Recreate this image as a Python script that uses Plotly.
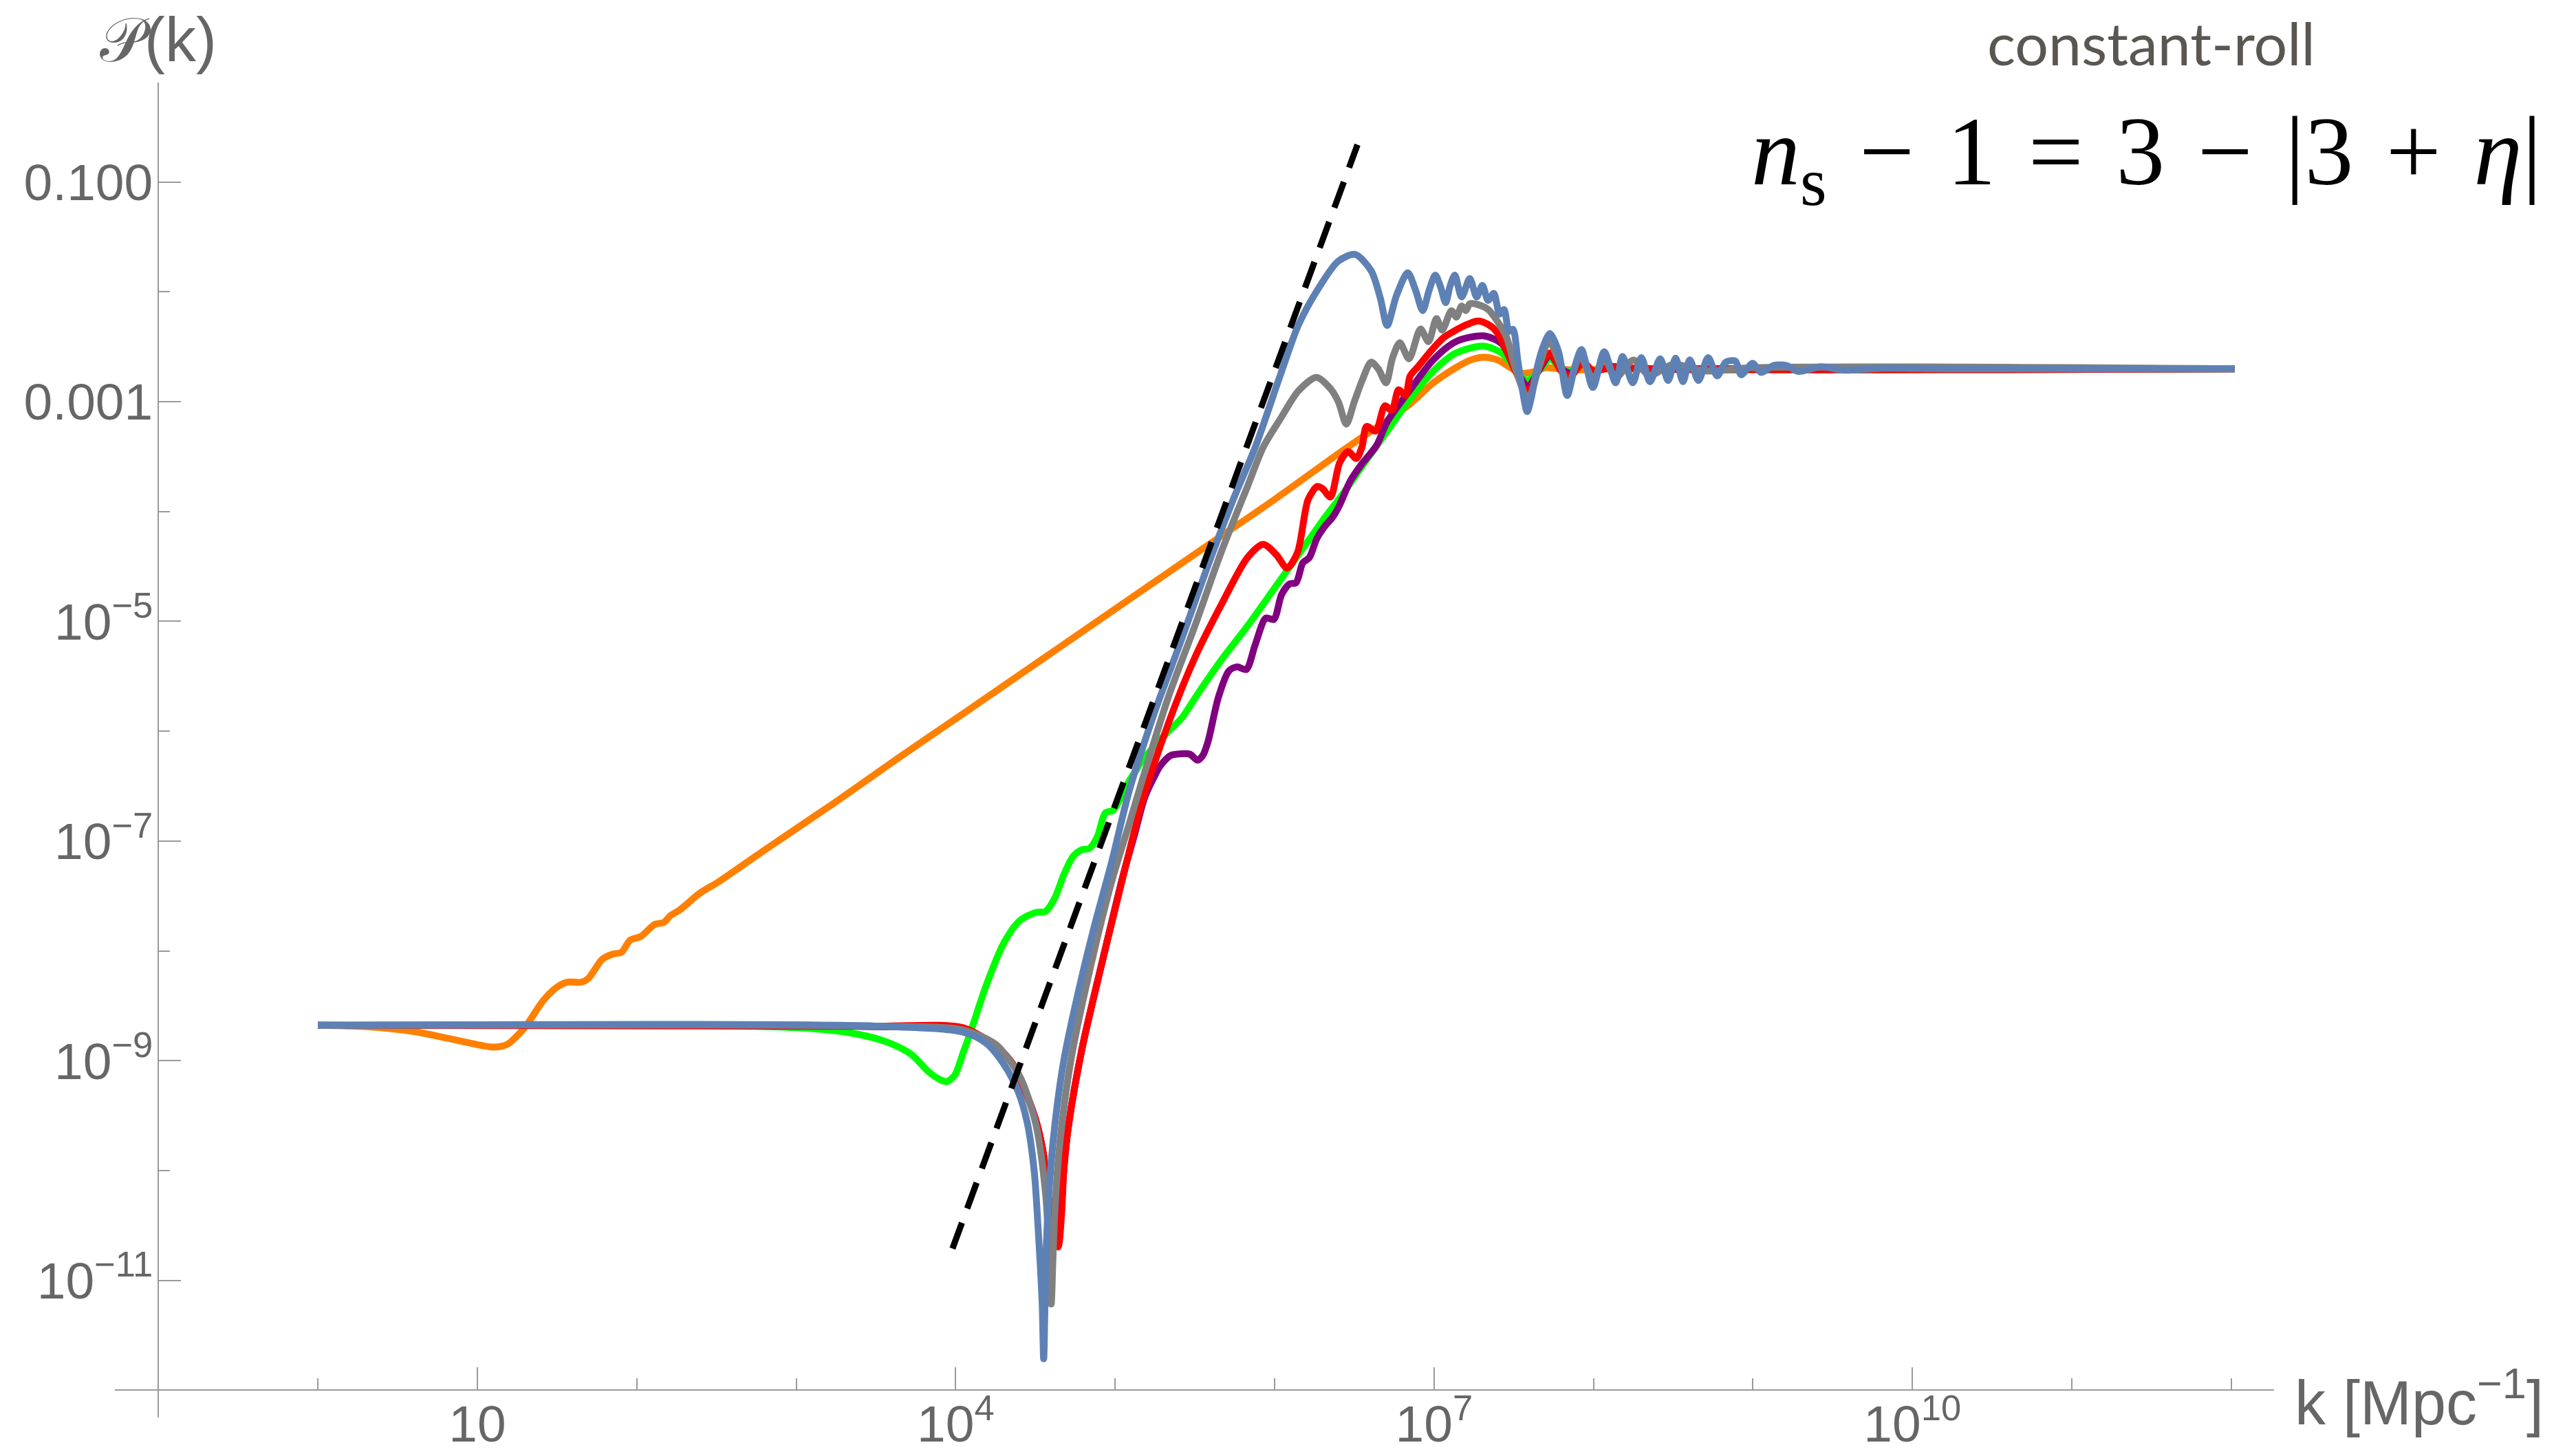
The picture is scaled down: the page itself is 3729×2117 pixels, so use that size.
import numpy as np
import plotly.graph_objects as go

# ---- curve samples: log10(k [1/Mpc]) and log10(P(k)) ----
orange_logk = [0.0, 0.3, 0.5945, 0.814, 0.969, 1.101, 1.189, 1.277, 1.321, 1.409, 1.497, 1.563, 1.651,
               1.695, 1.783, 1.849, 1.904, 1.959, 2.025, 2.113, 2.168, 2.212, 2.267, 2.40, 2.51, 2.796,
               3.236, 3.676, 4.046, 5.612, 6.0, 6.4185, 6.562, 6.706, 6.85, 6.994, 7.137, 7.23, 7.31,
               7.40, 7.48, 7.55, 7.62, 7.70, 7.78, 7.86, 8.2, 12.02]
orange_logP = [-8.678, -8.69, -8.732, -8.796, -8.844, -8.876, -8.850, -8.732, -8.652, -8.460, -8.333,
               -8.285, -8.285, -8.253, -8.077, -8.029, -8.013, -7.901, -7.869, -7.758, -7.742, -7.678,
               -7.630, -7.47, -7.374, -7.087, -6.655, -6.208, -5.841, -4.276, -3.89, -3.454, -3.31,
               -3.17, -3.02, -2.83, -2.69, -2.62, -2.595, -2.62, -2.69, -2.74, -2.73, -2.69, -2.70,
               -2.71, -2.70, -2.70]

green_logk = [0.0, 2.5, 3.016, 3.346, 3.566, 3.72, 3.83, 3.90, 3.945, 3.995, 4.046, 4.089, 4.19, 4.305,
              4.405, 4.506, 4.563, 4.621, 4.68, 4.736, 4.79, 4.839, 4.889, 4.938, 4.988, 5.037, 5.087,
              5.13, 5.17, 5.22, 5.318, 5.417, 5.516, 5.665, 5.83, 5.995, 6.16, 6.325, 6.433, 6.562,
              6.706, 6.85, 6.994, 7.137, 7.31, 7.425, 7.511, 7.583, 7.655, 7.727, 7.799, 7.857, 7.928,
              8.0, 8.1, 8.3, 12.02]
green_logP = [-8.678, -8.68, -8.70, -8.748, -8.828, -8.94, -9.10, -9.17, -9.19, -9.13, -8.93, -8.759,
              -8.32, -7.92, -7.721, -7.649, -7.641, -7.521, -7.30, -7.141, -7.079, -7.067, -6.959,
              -6.744, -6.720, -6.600, -6.456, -6.36, -6.26, -6.18, -6.025, -5.881, -5.665, -5.354,
              -5.042, -4.707, -4.371, -4.036, -3.83, -3.559, -3.267, -2.974, -2.724, -2.557, -2.494,
              -2.557, -2.703, -2.807, -2.724, -2.609, -2.703, -2.724, -2.661, -2.72, -2.68, -2.70, -2.70]

purple_logk = [0.0, 3.5, 4.046, 4.261, 4.362, 4.448, 4.506, 4.549, 4.578, 4.62, 4.64, 4.66, 4.678, 4.707,
               4.794, 4.909, 5.052, 5.12, 5.186, 5.25, 5.285, 5.35, 5.417, 5.47, 5.516, 5.55, 5.582,
               5.648, 5.714, 5.764, 5.822, 5.879, 5.945, 5.995, 6.044, 6.094, 6.135, 6.177, 6.218,
               6.267, 6.317, 6.366, 6.408, 6.474, 6.540, 6.639, 6.706, 6.85, 6.994, 7.137, 7.31, 7.425,
               7.511, 7.59, 7.655, 7.727, 7.80, 7.857, 7.936, 8.0, 8.1, 8.3, 12.02]
purple_logP = [-8.678, -8.69, -8.72, -8.879, -9.038, -9.318, -9.558, -9.837, -10.197, -10.6, -10.65,
               -10.40, -9.997, -9.598, -8.879, -8.160, -7.3, -6.95, -6.60, -6.40, -6.312, -6.22,
               -6.205, -6.21, -6.264, -6.22, -6.097, -5.689, -5.450, -5.414, -5.438, -5.210, -4.970,
               -4.982, -4.755, -4.659, -4.647, -4.467, -4.419, -4.239, -4.131, -4.048, -3.940, -3.724,
               -3.580, -3.40, -3.183, -2.891, -2.62, -2.453, -2.40, -2.473, -2.703, -2.86, -2.72,
               -2.578, -2.70, -2.74, -2.651, -2.72, -2.69, -2.70, -2.70]

red_logk = [0.0, 3.5, 4.046, 4.261, 4.362, 4.448, 4.506, 4.549, 4.578, 4.621, 4.642, 4.664, 4.678, 4.707,
            4.794, 4.909, 5.00, 5.054, 5.169, 5.334, 5.50, 5.665, 5.83, 5.929, 6.012, 6.078, 6.144,
            6.21, 6.267, 6.30, 6.35, 6.408, 6.461, 6.512, 6.548, 6.577, 6.634, 6.692, 6.735, 6.778,
            6.821, 6.85, 6.90, 6.994, 7.065, 7.137, 7.209, 7.274, 7.339, 7.396, 7.454, 7.511, 7.590,
            7.655, 7.727, 7.799, 7.857, 7.936, 8.0, 8.1, 8.3, 12.02]
red_logP = [-8.678, -8.685, -8.70, -8.879, -9.038, -9.318, -9.558, -9.837, -10.197, -10.636, -10.696,
            -10.397, -9.997, -9.598, -8.879, -8.160, -7.62, -7.30, -6.648, -5.929, -5.330, -4.851,
            -4.419, -4.299, -4.395, -4.515, -4.371, -3.892, -3.772, -3.79, -3.868, -3.556, -3.454,
            -3.517, -3.413, -3.225, -3.267, -3.037, -3.079, -2.891, -2.943, -2.766, -2.68, -2.515,
            -2.411, -2.348, -2.296, -2.265, -2.296, -2.369, -2.536, -2.724, -2.912, -2.703, -2.557,
            -2.724, -2.766, -2.640, -2.724, -2.68, -2.70, -2.70]

gray_logk = [0.0, 3.5, 4.046, 4.25, 4.35, 4.420, 4.506, 4.563, 4.585, 4.599, 4.610, 4.621, 4.650, 4.722,
             4.837, 4.98, 5.087, 5.169, 5.334, 5.50, 5.665, 5.83, 5.929, 6.036, 6.15, 6.263, 6.35, 6.40,
             6.45, 6.50, 6.551, 6.605, 6.65, 6.699, 6.74, 6.785, 6.843, 6.915, 6.965, 7.015, 7.051,
             7.109, 7.14, 7.173, 7.20, 7.224, 7.281, 7.339, 7.396, 7.454, 7.511, 7.59, 7.655, 7.72,
             7.80, 7.84, 7.914, 8.0, 8.065, 8.14, 8.25, 8.35, 8.5, 8.7, 9.0, 12.02]
gray_logP = [-8.678, -8.685, -8.72, -8.85, -9.02, -9.198, -9.598, -10.197, -10.7, -11.215, -10.8, -10.40,
             -9.80, -9.0, -8.2, -7.36, -6.85, -6.45, -5.689, -5.042, -4.371, -3.772, -3.413, -3.157,
             -2.90, -2.778, -2.88, -3.00, -3.204, -3.0, -2.80, -2.640, -2.70, -2.828, -2.60, -2.463,
             -2.609, -2.338, -2.453, -2.244, -2.348, -2.171, -2.23, -2.129, -2.17, -2.108, -2.119,
             -2.16, -2.265, -2.411, -2.703, -2.974, -2.70, -2.45, -2.70, -2.87, -2.58, -2.80, -2.6,
             -2.78, -2.62, -2.76, -2.66, -2.72, -2.69, -2.70]

blue_logk = [0.0, 3.5, 4.046, 4.19, 4.305, 4.391, 4.448, 4.492, 4.520, 4.542, 4.552, 4.566, 4.585, 4.621,
             4.678, 4.765, 4.865, 4.98, 5.087, 5.252, 5.417, 5.582, 5.747, 5.879, 6.036, 6.15, 6.279,
             6.40, 6.505, 6.605, 6.663, 6.706, 6.764, 6.835, 6.886, 6.929, 6.97, 7.008, 7.04, 7.073,
             7.10, 7.130, 7.173, 7.224, 7.267, 7.303, 7.339, 7.375, 7.411, 7.439, 7.47, 7.495, 7.525,
             7.555, 7.584, 7.612, 7.645, 7.684, 7.727, 7.78, 7.835, 7.88, 7.924, 7.996, 8.067, 8.139,
             8.182, 8.246, 8.300, 8.354, 8.418, 8.468, 8.515, 8.561, 8.604, 8.658, 8.719, 8.776, 8.83,
             8.890, 8.926, 8.998, 9.051, 9.13, 9.212, 9.284, 9.427, 9.570, 9.8, 10.2, 12.02]
blue_logP = [-8.678, -8.685, -8.739, -8.839, -9.038, -9.278, -9.558, -9.997, -10.596, -11.195, -11.714,
             -10.796, -10.197, -9.598, -8.999, -8.400, -7.800, -7.18, -6.55, -5.809, -5.162, -4.491,
             -3.868, -3.413, -2.758, -2.30, -1.959, -1.720, -1.659, -1.806, -2.056, -2.306, -2.035,
             -1.826, -1.993, -2.171, -1.98, -1.847, -1.95, -2.098, -1.95, -1.847, -2.046, -1.879,
             -2.046, -1.941, -2.077, -2.014, -2.202, -2.16, -2.36, -2.34, -2.62, -2.90, -3.09, -2.95,
             -2.70, -2.50, -2.38, -2.54, -2.943, -2.7, -2.525, -2.870, -2.546, -2.828, -2.588, -2.828,
             -2.598, -2.818, -2.609, -2.807, -2.603, -2.818, -2.619, -2.807, -2.598, -2.765, -2.64,
             -2.630, -2.755, -2.651, -2.734, -2.67, -2.671, -2.724, -2.682, -2.713, -2.695, -2.70, -2.70]

# k^4 guide line (end points)
guide_logk = [3.98, 6.52]
guide_logP = [-10.71, -0.66]

# axis ticks
x_major = [1e1, 1e4, 1e7, 1e10]
x_major_text = ["10", "10<sup>4</sup>", "10<sup>7</sup>", "10<sup>10</sup>"]
x_minor = [1e0, 1e2, 1e3, 1e5, 1e6, 1e8, 1e9, 1e11, 1e12]
y_major = [1e-1, 1e-3, 1e-5, 1e-7, 1e-9, 1e-11]
y_major_text = ["0.100", "0.001", "10<sup>\u22125</sup>", "10<sup>\u22127</sup>",
                "10<sup>\u22129</sup>", "10<sup>\u221211</sup>"]
y_minor = [1e-2, 1e-4, 1e-6, 1e-8, 1e-10, 1e-12]

# ---- figure geometry (pixels) ----
W, H = 3729, 2117
ML, MR, MT, MB = 167, 423, 120, 56
x_rng = [-1.273, 12.268]
y_rng = [-12.248, -0.094]
PW, PH = W - ML - MR, H - MT - MB


def px(x):
    return (x - ML) / PW


def py(y):
    return (H - MB - y) / PH


AXIS_GRAY = "#9a9a9a"
TEXT_GRAY = "#666666"

series = [
    ("orange", orange_logk, orange_logP, "#FF8000"),
    ("green", green_logk, green_logP, "#00FF00"),
    ("purple", purple_logk, purple_logP, "#800080"),
    ("red", red_logk, red_logP, "#FF0000"),
    ("gray", gray_logk, gray_logP, "#808080"),
    ("blue", blue_logk, blue_logP, "#5E81B5"),
]

fig = go.Figure()
for name, lk, lp, col in series:
    fig.add_trace(go.Scatter(
        x=np.power(10.0, lk), y=np.power(10.0, lp), mode="lines", name=name,
        line=dict(color=col, width=10, shape="spline", smoothing=0.8),
        showlegend=False, hoverinfo="skip"))

fig.add_trace(go.Scatter(
    x=np.power(10.0, guide_logk), y=np.power(10.0, guide_logP), mode="lines",
    line=dict(color="black", width=9, dash="40px,22px"), showlegend=False, hoverinfo="skip"))

tick_font = dict(family="Liberation Sans, Arial, sans-serif", size=75, color=TEXT_GRAY)

fig.update_layout(
    width=W, height=H,
    margin=dict(l=ML, r=MR, t=MT, b=MB, pad=0, autoexpand=False),
    paper_bgcolor="white", plot_bgcolor="white",
    xaxis=dict(
        type="log", range=x_rng, showgrid=False, zeroline=False, automargin=False,
        showline=True, linecolor=AXIS_GRAY, linewidth=2,
        anchor="free", position=(12.248 - 12.0) / (12.248 - 0.094),
        ticks="inside", ticklen=32, tickwidth=2, tickcolor=AXIS_GRAY,
        tickvals=x_major, ticktext=x_major_text, tickfont=tick_font,
        ticklabelstandoff=-16,
        minor=dict(tickvals=x_minor, ticks="inside", ticklen=16, tickwidth=2, tickcolor=AXIS_GRAY,
                   showgrid=False),
    ),
    yaxis=dict(
        type="log", range=y_rng, showgrid=False, zeroline=False, automargin=False,
        showline=True, linecolor=AXIS_GRAY, linewidth=2,
        anchor="free", position=(1.273 - 1.0) / (12.268 + 1.273),
        ticks="inside", ticklen=32, tickwidth=2, tickcolor=AXIS_GRAY,
        tickvals=y_major, ticktext=y_major_text, tickfont=tick_font,
        ticklabelstandoff=-8,
        minor=dict(tickvals=y_minor, ticks="inside", ticklen=16, tickwidth=2, tickcolor=AXIS_GRAY,
                   showgrid=False),
    ),
)

label_font = dict(family="Liberation Sans, DejaVu Sans, sans-serif", size=90, color=TEXT_GRAY)

fig.add_annotation(text="\U0001D4AB(k)", x=px(143), y=py(58), xref="paper", yref="paper",
                   xanchor="left", yanchor="middle", showarrow=False, font=label_font)
fig.add_annotation(text="k [Mpc<sup>\u22121</sup>]", x=px(3334), y=py(2033), xref="paper", yref="paper",
                   xanchor="left", yanchor="middle", showarrow=False, font=label_font)
fig.add_annotation(text="constant-roll", x=px(3127), y=py(62), xref="paper", yref="paper",
                   xanchor="center", yanchor="middle", showarrow=False,
                   font=dict(family="Lato, Open Sans, sans-serif", size=86, color="#5a5651"))
sp = "\u2004"
fig.add_annotation(text=f"<i>n</i><sub>s</sub>{sp}\u2212{sp}1{sp}={sp}3{sp}\u2212{sp}|3{sp}+{sp}<i>\u03b7</i>|",
                   x=px(3697), y=py(230), xref="paper", yref="paper",
                   xanchor="right", yanchor="middle", showarrow=False,
                   font=dict(family="Liberation Serif, serif", size=142, color="black"))

fig.write_html("out.html")
